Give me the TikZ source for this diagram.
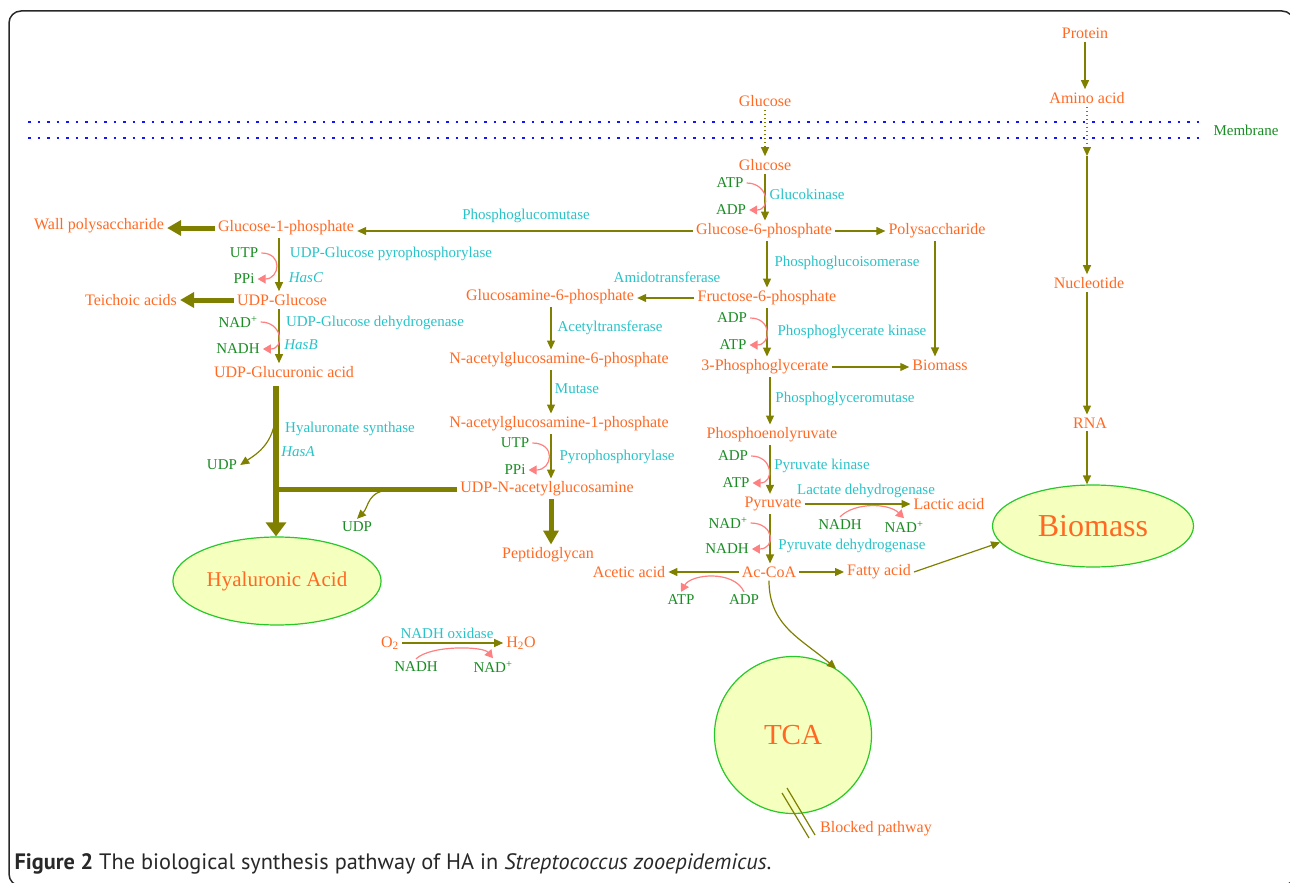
\documentclass[tikz,border=0pt]{standalone}
\usepackage{fontspec}
\setmainfont{Liberation Serif}
\newfontfamily\capfont{PT Sans}
\usepackage{xcolor}
\usepackage{tikz}
\usetikzlibrary{arrows.meta,shapes.geometric}

\definecolor{metorange}{RGB}{255,105,35}
\definecolor{cofgreen}{RGB}{25,140,35}
\definecolor{enzcyan}{RGB}{40,195,200}
\definecolor{pathOlive}{RGB}{128,128,0}
\definecolor{cofpink}{RGB}{255,128,128}
\definecolor{cellfill}{RGB}{245,255,190}
\definecolor{cellline}{RGB}{40,200,40}
\definecolor{framegrey}{RGB}{40,40,40}

\tikzset{
  met/.style={text=metorange, font=\fontsize{16}{18}\selectfont, inner sep=3pt},
  cofac/.style={text=cofgreen, font=\fontsize{15}{18}\selectfont, inner sep=3pt},
  enz/.style={text=enzcyan, font=\fontsize{15}{18}\selectfont, inner sep=2pt},
  cellbox/.style={draw=cellline, fill=cellfill, line width=1.2pt, text=metorange},
  arr/.style={draw=pathOlive, line width=1.2pt, -{Triangle[length=9pt,width=8pt]}},
  dotarr/.style={arr, dash pattern=on 1.5pt off 2.5pt},
  thickarr/.style={draw=pathOlive, line width=5pt, -{Triangle[length=14pt,width=15pt]}},
  cofarr/.style={draw=cofpink, line width=1.2pt, -{Triangle[length=8pt,width=9pt]}},
  membr/.style={draw={rgb,255:red,20;green,20;blue,255}, line width=2.5pt, dash pattern=on 2.5pt off 7pt},
}

\begin{document}
\begin{tikzpicture}[x=1pt,y=-1pt]
  \useasboundingbox (0,0) rectangle (1290,883);
  \clip (0,0) rectangle (1290,883);

  % Frame
  \draw[framegrey, line width=1.5pt, rounded corners=12pt] (9,11) rectangle (1294,886);

  % Membrane
  \coordinate (memA) at (28,122);
  \coordinate (memB) at (1205,122);
  \coordinate (memC) at (28,138);
  \coordinate (memD) at (1205,138);
  \draw[membr] (memA) -- (memB);
  \draw[membr] (memC) -- (memD);
  \node[cofac] (memlab) at (1246,130) {Membrane};

  % Outside of the cell
  \node[met] (prot) at (1085,33) {Protein};
  \node[met] (amino) at (1087,98) {Amino acid};
  \node[met] (glcout) at (765,101) {Glucose};

  % Glycolysis
  \node[met] (glc) at (765,165) {Glucose};
  \node[cofac] (atpA) at (730,183) {ATP};
  \node[cofac] (adpA) at (731,210) {ADP};
  \node[enz] (glk) at (807,194) {Glucokinase};
  \node[met] (g6p) at (764,231) {Glucose-6-phosphate};
  \node[met] (poly) at (937,231) {Polysaccharide};
  \node[enz] (pgm) at (526,216) {Phosphoglucomutase};
  \node[met] (f6p) at (767,298) {Fructose-6-phosphate};
  \node[enz] (pgi) at (847,263) {Phosphoglucoisomerase};
  \node[cofac] (adpB) at (732,318) {ADP};
  \node[cofac] (atpB) at (733,345) {ATP};
  \node[enz] (pgk) at (852,332) {Phosphoglycerate kinase};
  \node[met] (pg3) at (765,367) {3-Phosphoglycerate};
  \node[met] (biosm) at (940,365) {Biomass};
  \node[enz] (pgam) at (845,399) {Phosphoglyceromutase};
  \node[met] (pep) at (772,435) {Phosphoenolyruvate};
  \node[cofac] (adpC) at (733,456) {ADP};
  \node[cofac] (atpC) at (736,483) {ATP};
  \node[enz] (pk) at (822,466) {Pyruvate kinase};
  \node[met] (pyr) at (773,504) {Pyruvate};
  \node[enz] (ldh) at (866,491) {Lactate dehydrogenase};
  \node[met] (lac) at (949,504) {Lactic acid};
  \node[cofac] (nadhD) at (840,525) {NADH};
  \node[cofac] (nadD) at (904,527) {NAD\textsuperscript{+}};
  \node[cofac] (nadE) at (728,523) {NAD\textsuperscript{+}};
  \node[cofac] (nadhE) at (727,549) {NADH};
  \node[enz] (pdh) at (852,546) {Pyruvate dehydrogenase};
  \node[met] (accoa) at (769,572) {Ac-CoA};
  \node[met] (acet) at (629,572) {Acetic acid};
  \node[cofac] (atpF) at (681,600) {ATP};
  \node[cofac] (adpF) at (744,600) {ADP};
  \node[met] (fatty) at (879,572) {Fatty acid};

  % Nucleotide branch
  \node[met] (nucl) at (1089,283) {Nucleotide};
  \node[met] (rna) at (1090,423) {RNA};

  % Sinks
  \node[cellbox, ellipse, minimum width=201pt, minimum height=82pt, font=\fontsize{32}{34}\selectfont] (bioell) at (1093,526) {Biomass};
  \node[cellbox, circle, minimum size=157pt, font=\fontsize{29}{32}\selectfont] (tca) at (793,735) {TCA};
  \node[cellbox, ellipse, minimum width=200pt, minimum height=88pt, font=\fontsize{21}{24}\selectfont] (haell) at (277,581) {Hyaluronic Acid};

  % HA branch
  \node[met] (g1p) at (286,228) {Glucose-1-phosphate};
  \node[met] (wall) at (99,226) {Wall polysaccharide};
  \node[cofac] (utpA) at (244,253) {UTP};
  \node[cofac] (ppiA) at (244,279) {PPi};
  \node[enz] (ugp) at (391,254) {UDP-Glucose pyrophosphorylase};
  \node[enz] (hasc) at (306,278) {\itshape HasC};
  \node[met] (udpglc) at (282,300) {UDP-Glucose};
  \node[met] (teich) at (131,300) {Teichoic acids};
  \node[cofac] (nadG) at (238,322) {NAD\textsuperscript{+}};
  \node[cofac] (nadhG) at (238,349) {NADH};
  \node[enz] (ugd) at (375,323) {UDP-Glucose dehydrogenase};
  \node[enz] (hasb) at (301,345) {\itshape HasB};
  \node[met] (udpgca) at (284,372) {UDP-Glucuronic acid};
  \node[enz] (has) at (350,429) {Hyaluronate synthase};
  \node[enz] (hasa) at (298,452) {\itshape HasA};
  \node[cofac] (udpH) at (222,465) {UDP};

  % Amino sugar branch
  \node[met] (gm6p) at (550,297) {Glucosamine-6-phosphate};
  \node[enz] (amt) at (667,277) {Amidotransferase};
  \node[enz] (act) at (610,328) {Acetyltransferase};
  \node[met] (nag6p) at (559,360) {N-acetylglucosamine-6-phosphate};
  \node[enz] (mut) at (577,389) {Mutase};
  \node[met] (nag1p) at (559,424) {N-acetylglucosamine-1-phosphate};
  \node[cofac] (utpN) at (515,443) {UTP};
  \node[cofac] (ppiN) at (515,470) {PPi};
  \node[enz] (pyrp) at (617,457) {Pyrophosphorylase};
  \node[met] (udpnag) at (547,489) {UDP-N-acetylglucosamine};
  \node[cofac] (udpN) at (357,527) {UDP};
  \node[met] (pepg) at (548,555) {Peptidoglycan};

  % NADH oxidase
  \node[met] (oxy) at (390,643) {O\textsubscript{2}};
  \node[met] (water) at (521,643) {H\textsubscript{2}O};
  \node[enz] (nox) at (447,633) {NADH oxidase};
  \node[cofac] (nadhO) at (416,667) {NADH};
  \node[cofac] (nadO) at (493,667) {NAD\textsuperscript{+}};

  % Blocked pathway
  \node[met] (blk) at (876,829) {Blocked pathway};
  \draw[pathOlive, line width=1.2pt] (782,793) -- (809,838);
  \draw[pathOlive, line width=1.2pt] (787,788) -- (815,835);

  % Uptake
  \coordinate (aain) at (1087,156);
  \draw[dotarr] (glcout) -- (glcout |- glc.north);
  \draw[arr] (prot) -- (prot |- amino.north);
  \draw[dotarr] (amino) -- (aain);
  \draw[arr] (aain) -- (aain |- nucl.north);
  \draw[arr] (nucl.south -| aain) -- (aain |- rna.north);
  \draw[arr] (rna.south -| aain) -- (aain |- bioell.north);

  % Glycolysis arrows
  \coordinate (polyx) at (935,0);
  \coordinate (colB) at (770,0);
  \draw[arr] (glc) -- (glc |- g6p.north);
  \draw[arr] (g6p.west) -- (g6p.west -| g1p.east);
  \draw[arr] (g6p.east) -- (g6p.east -| poly.west);
  \draw[arr] (poly.south -| polyx) -- (polyx |- biosm.north);
  \draw[arr] (g6p.south -| f6p) -- (f6p.north);
  \draw[arr] (f6p.west) -- (f6p.west -| gm6p.east);
  \draw[arr] (f6p) -- (f6p |- pg3.north);
  \draw[arr] (pg3.east) -- (pg3.east -| biosm.west);
  \draw[arr] (pg3.south -| colB) -- (colB |- pep.north);
  \draw[arr] (pep.south -| colB) -- (colB |- pyr.north);
  \draw[arr] (pyr.east) -- (pyr.east -| lac.west);
  \draw[arr] (pyr.south -| colB) -- (colB |- accoa.north);
  \draw[arr] (accoa.west) -- (accoa.west -| acet.east);
  \draw[arr] (accoa.east) -- (accoa.east -| fatty.west);
  \draw[arr] (fatty.east) -- (bioell.190);
  \draw[arr] (accoa.south) .. controls +(0,45) and +(-35,-30) .. (tca.57);

  % HA branch arrows
  \coordinate (colA) at (279,0);
  \coordinate (hatop) at (276,386);
  \coordinate (udpoff) at (276,413);
  \coordinate (hjoin) at (279,488);
  \coordinate (udpoffB) at (392,490);
  \draw[thickarr] (g1p.west) -- (g1p.west -| wall.east);
  \draw[arr] (g1p.south -| colA) -- (colA |- udpglc.north);
  \draw[thickarr] (udpglc.west) -- (udpglc.west -| teich.east);
  \draw[arr] (udpglc.south -| colA) -- (colA |- udpgca.north);
  \draw[pathOlive, line width=6pt, -{Triangle[length=14pt,width=20pt]}] (hatop) -- (hatop |- haell.north);
  \draw[arr] (udpoff) .. controls +(-2,30) and +(18,-12) .. (udpH.east);
  \draw[pathOlive, line width=5pt] (udpnag.west) -- (udpnag.west -| hjoin);
  \draw[arr] (udpoffB) .. controls +(-25,0) and +(12,-12) .. (udpN.north);

  % Amino sugar arrows
  \coordinate (colN) at (551,0);
  \draw[arr] (gm6p.south -| colN) -- (colN |- nag6p.north);
  \draw[arr] (nag6p.south -| colN) -- (colN |- nag1p.north);
  \draw[arr] (nag1p.south -| colN) -- (colN |- udpnag.north);
  \draw[thickarr] (udpnag.south -| colN) -- (colN |- pepg.north);

  % Oxygen
  \draw[arr] (oxy.east) -- (oxy.east -| water.west);

  % Cofactors
  \draw[cofarr] (atpA.east) .. controls +(22,0) and +(22,0) .. (adpA.east);
  \draw[cofarr] (adpB.east) .. controls +(22,0) and +(22,0) .. (atpB.east);
  \draw[cofarr] (adpC.east) .. controls +(22,0) and +(22,0) .. (atpC.east);
  \draw[cofarr] (nadE.east) .. controls +(24,0) and +(24,0) .. (nadhE.east);
  \draw[cofarr] (utpA.east) .. controls +(22,0) and +(22,0) .. (ppiA.east);
  \draw[cofarr] (nadG.east) .. controls +(22,0) and +(22,0) .. (nadhG.east);
  \draw[cofarr] (utpN.east) .. controls +(24,0) and +(24,0) .. (ppiN.east);
  \draw[cofarr] (nadhD.north) .. controls +(15,-15) and +(-15,-15) .. (nadD.north);
  \draw[cofarr] (adpF.north) .. controls +(-10,-22) and +(10,-18) .. (atpF.north);
  \draw[cofarr] (nadhO.north) .. controls +(15,-14) and +(-10,-12) .. (nadO.north);

  % Caption
  \node[anchor=west, text=framegrey, font=\capfont\fontsize{22.3}{26}\selectfont] (caption) at (11,864)
    {\textbf{Figure 2} The biological synthesis pathway of HA in \textit{Streptococcus zooepidemicus}.};
\end{tikzpicture}
\end{document}
